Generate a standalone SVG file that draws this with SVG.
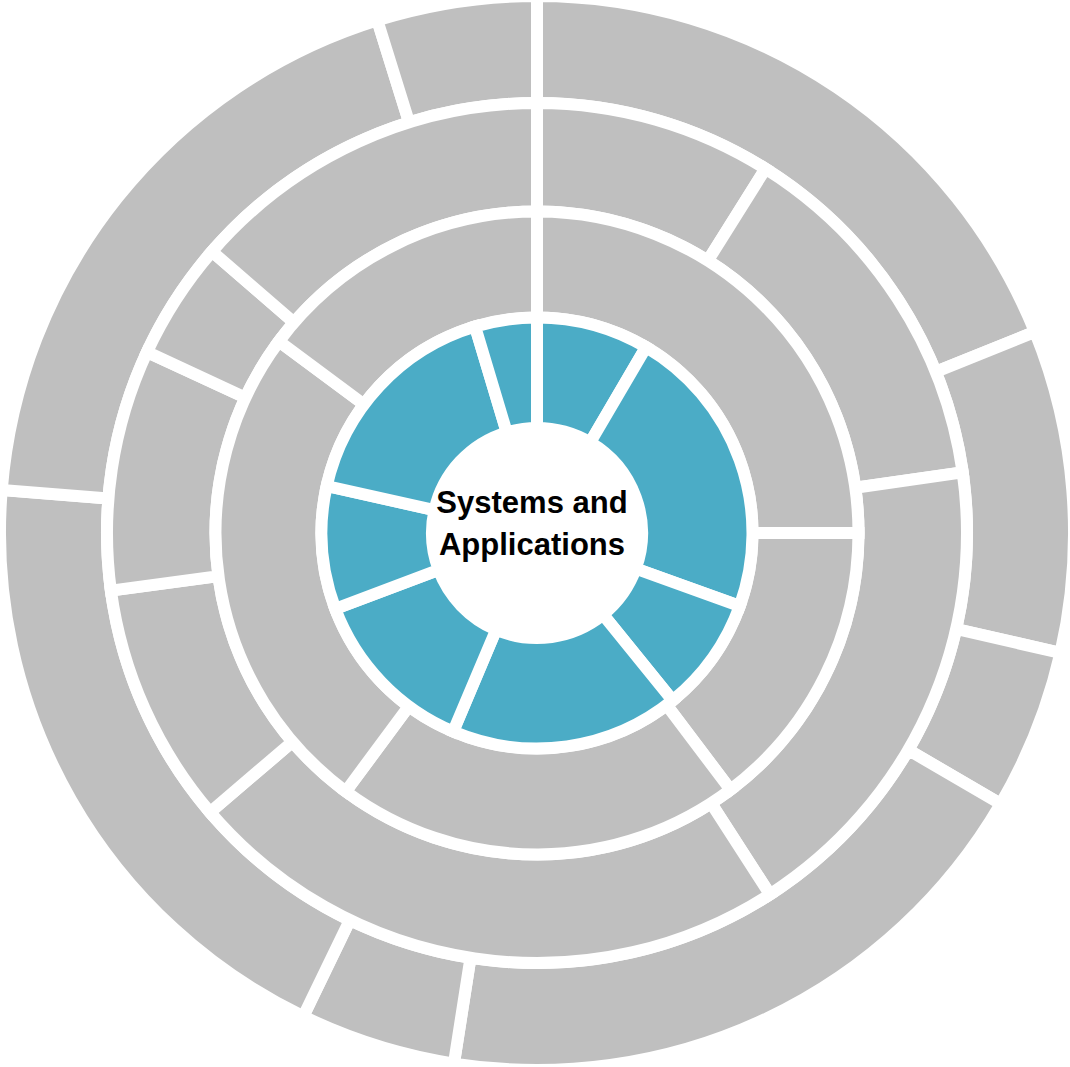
<svg xmlns="http://www.w3.org/2000/svg" width="1070" height="1067" viewBox="0 0 1070 1067">
<style>
.seg{stroke:#FFFFFF;stroke-width:12;stroke-linejoin:miter}
.blue{fill:#4BACC6}
.gray{fill:#BFBFBF}
.lbl{font-family:"Liberation Sans",Arial,sans-serif;font-weight:bold;font-size:31px;fill:#000000;text-anchor:middle}
</style>
<rect width="1070" height="1067" fill="#FFFFFF"/>
<g id="ring4">
<g id="r4-a"><path class="seg gray" d="M537,103 L537,-4 A537,537 0 0 1 1034.91,331.84 L935.7,371.92 A430,430 0 0 0 537,103 Z"/></g>
<g id="r4-b"><path class="seg gray" d="M935.7,371.92 L1034.91,331.84 A537,537 0 0 1 1060.47,652.91 L956.16,629.02 A430,430 0 0 0 935.7,371.92 Z"/></g>
<g id="r4-c"><path class="seg gray" d="M956.16,629.02 L1060.47,652.91 A537,537 0 0 1 1000.65,803.92 L908.26,749.94 A430,430 0 0 0 956.16,629.02 Z"/></g>
<g id="r4-d"><path class="seg gray" d="M908.26,749.94 L1000.65,803.92 A537,537 0 0 1 453.93,1063.56 L470.48,957.84 A430,430 0 0 0 908.26,749.94 Z"/></g>
<g id="r4-e"><path class="seg gray" d="M470.48,957.84 L453.93,1063.56 A537,537 0 0 1 303.3,1016.46 L349.86,920.13 A430,430 0 0 0 470.48,957.84 Z"/></g>
<g id="r4-f"><path class="seg gray" d="M349.86,920.13 L303.3,1016.46 A537,537 0 0 1 1.72,489.93 L108.38,498.51 A430,430 0 0 0 349.86,920.13 Z"/></g>
<g id="r4-g"><path class="seg gray" d="M108.38,498.51 L1.72,489.93 A537,537 0 0 1 377.3,20.27 L409.12,122.44 A430,430 0 0 0 108.38,498.51 Z"/></g>
<g id="r4-h"><path class="seg gray" d="M409.12,122.44 L377.3,20.27 A537,537 0 0 1 537,-4 L537,103 A430,430 0 0 0 409.12,122.44 Z"/></g>
</g>
<g id="ring3">
<g id="r3-a"><path class="seg gray" d="M537,211.5 L537,103 A430,430 0 0 1 765.5,168.75 L707.85,260.66 A321.5,321.5 0 0 0 537,211.5 Z"/></g>
<g id="r3-b"><path class="seg gray" d="M707.85,260.66 L765.5,168.75 A430,430 0 0 1 962.7,472.41 L855.29,487.7 A321.5,321.5 0 0 0 707.85,260.66 Z"/></g>
<g id="r3-c"><path class="seg gray" d="M855.29,487.7 L962.7,472.41 A430,430 0 0 1 769.93,894.46 L711.16,803.25 A321.5,321.5 0 0 0 855.29,487.7 Z"/></g>
<g id="r3-d"><path class="seg gray" d="M711.16,803.25 L769.93,894.46 A430,430 0 0 1 210.03,812.24 L292.53,741.78 A321.5,321.5 0 0 0 711.16,803.25 Z"/></g>
<g id="r3-e"><path class="seg gray" d="M292.53,741.78 L210.03,812.24 A430,430 0 0 1 110.87,590.62 L218.39,576.08 A321.5,321.5 0 0 0 292.53,741.78 Z"/></g>
<g id="r3-f"><path class="seg gray" d="M218.39,576.08 L110.87,590.62 A430,430 0 0 1 146.99,351.97 L245.4,397.65 A321.5,321.5 0 0 0 218.39,576.08 Z"/></g>
<g id="r3-g"><path class="seg gray" d="M245.4,397.65 L146.99,351.97 A430,430 0 0 1 211.96,251.48 L293.98,322.51 A321.5,321.5 0 0 0 245.4,397.65 Z"/></g>
<g id="r3-h"><path class="seg gray" d="M293.98,322.51 L211.96,251.48 A430,430 0 0 1 537,103 L537,211.5 A321.5,321.5 0 0 0 293.98,322.51 Z"/></g>
</g>
<g id="ring2">
<g id="r2-a"><path class="seg gray" d="M537,317.5 L537,211.5 A321.5,321.5 0 0 1 858.5,533 L752.5,533 A215.5,215.5 0 0 0 537,317.5 Z"/></g>
<g id="r2-b"><path class="seg gray" d="M752.5,533 L858.5,533 A321.5,321.5 0 0 1 730.48,789.75 L666.69,705.1 A215.5,215.5 0 0 0 752.5,533 Z"/></g>
<g id="r2-c"><path class="seg gray" d="M666.69,705.1 L730.48,789.75 A321.5,321.5 0 0 1 345.77,791.45 L408.82,706.24 A215.5,215.5 0 0 0 666.69,705.1 Z"/></g>
<g id="r2-d"><path class="seg gray" d="M408.82,706.24 L345.77,791.45 A321.5,321.5 0 0 1 278.9,341.32 L364,404.52 A215.5,215.5 0 0 0 408.82,706.24 Z"/></g>
<g id="r2-e"><path class="seg gray" d="M364,404.52 L278.9,341.32 A321.5,321.5 0 0 1 537,211.5 L537,317.5 A215.5,215.5 0 0 0 364,404.52 Z"/></g>
</g>
<g id="ring1">
<g id="r1-a"><path class="seg blue" d="M537,428 L537,317.5 A215.5,215.5 0 0 1 646.04,347.13 L590.13,442.44 A105,105 0 0 0 537,428 Z"/></g>
<g id="r1-b"><path class="seg blue" d="M590.13,442.44 L646.04,347.13 A215.5,215.5 0 0 1 739.76,605.99 L635.79,568.56 A105,105 0 0 0 590.13,442.44 Z"/></g>
<g id="r1-c"><path class="seg blue" d="M635.79,568.56 L739.76,605.99 A215.5,215.5 0 0 1 672.61,700.47 L603.08,614.6 A105,105 0 0 0 635.79,568.56 Z"/></g>
<g id="r1-d"><path class="seg blue" d="M603.08,614.6 L672.61,700.47 A215.5,215.5 0 0 1 453.15,731.52 L496.14,629.73 A105,105 0 0 0 603.08,614.6 Z"/></g>
<g id="r1-e"><path class="seg blue" d="M496.14,629.73 L453.15,731.52 A215.5,215.5 0 0 1 335.27,608.81 L438.71,569.94 A105,105 0 0 0 496.14,629.73 Z"/></g>
<g id="r1-f"><path class="seg blue" d="M438.71,569.94 L335.27,608.81 A215.5,215.5 0 0 1 326.69,486 L434.53,510.1 A105,105 0 0 0 438.71,569.94 Z"/></g>
<g id="r1-g"><path class="seg blue" d="M434.53,510.1 L326.69,486 A215.5,215.5 0 0 1 475.07,326.59 L506.82,432.43 A105,105 0 0 0 434.53,510.1 Z"/></g>
<g id="r1-h"><path class="seg blue" d="M506.82,432.43 L475.07,326.59 A215.5,215.5 0 0 1 537,317.5 L537,428 A105,105 0 0 0 506.82,432.43 Z"/></g>
</g>
<g id="center">
<text class="lbl" x="532" y="513">Systems and</text>
<text class="lbl" x="532" y="555">Applications</text>
</g>
</svg>
